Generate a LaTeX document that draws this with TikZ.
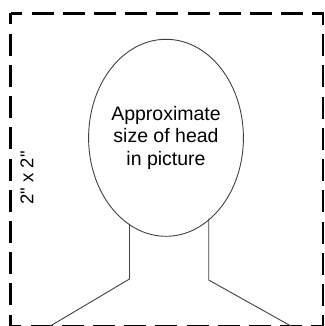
\documentclass[tikz,border=0pt]{standalone}
\usepackage{fontspec}
\setmainfont{Liberation Sans}
\usetikzlibrary{shapes.geometric}
\begin{document}
\begin{tikzpicture}[x=1pt,y=-1pt,
  frame/.style={line width=2.2pt, black, dash pattern=on 22pt off 9.2pt, dash phase=11pt},
  outline/.style={line width=0.9pt, draw=black!75},
  headbox/.style={ellipse, outline, minimum width=150pt, minimum height=197pt, inner sep=0pt, align=center,
    text=black, font=\fontsize{19.5}{22.5}\selectfont},
  dimlabel/.style={rotate=90, inner sep=0pt, text=black, font=\fontsize{18.5}{20}\selectfont}]
\useasboundingbox (0,0) rectangle (324,326);
\draw[frame] (10.5,13.5) rectangle (322.7,325.7);
\node[headbox] (head) at (166,137.8) {Approximate\\size of head\\in picture};
\node[dimlabel] (dim) at (27,178) {2\textquotedbl{} x 2\textquotedbl};
\coordinate (nlt) at (129.5,223.8);
\coordinate (nlb) at (129.5,279);
\coordinate (slb) at (50.3,326);
\coordinate (nrt) at (208.7,218.7);
\coordinate (nrb) at (208.7,280);
\coordinate (srb) at (290.9,326);
\draw[outline] (nlt) -- (nlb) -- (slb);
\draw[outline] (nrt) -- (nrb) -- (srb);
\end{tikzpicture}
\end{document}
